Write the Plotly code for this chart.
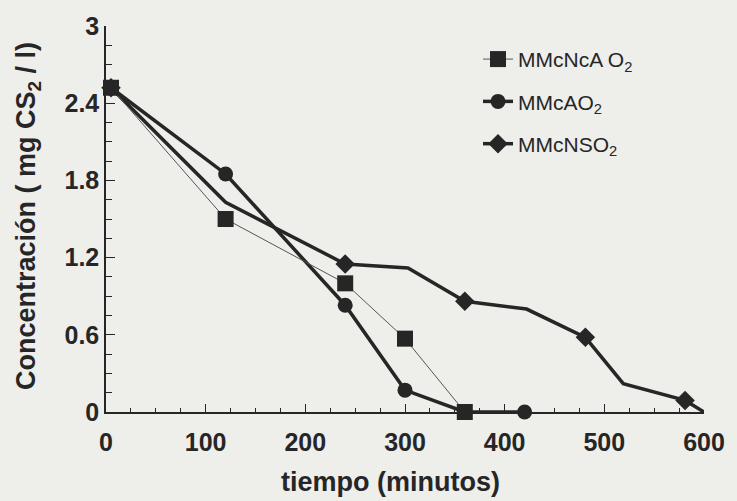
import plotly.graph_objects as go

# ---- data ----
sq_name = "MMcNcA O<sub>2</sub>"
sq_t = [5, 120, 240, 300, 360]
sq_c = [2.52, 1.50, 1.00, 0.57, 0.0]

ci_name = "MMcAO<sub>2</sub>"
ci_t = [5, 120, 240, 300, 360, 420]
ci_c = [2.52, 1.85, 0.83, 0.17, 0.0, 0.0]

di_name = "MMcNSO<sub>2</sub>"
di_t = [5, 120, 240, 303, 360, 422, 481, 519, 581, 600]
di_c = [2.52, 1.63, 1.15, 1.12, 0.86, 0.80, 0.58, 0.22, 0.09, 0.0]
di_has_marker = [True, False, True, False, True, False, True, False, True, False]

x_tickvals = [0, 100, 200, 300, 400, 500, 600]
x_ticktext = ["0", "100", "200", "300", "400", "500", "600"]
y_tickvals = [0, 0.6, 1.2, 1.8, 2.4, 3.0]
y_ticktext = ["0", "0.6", "1.2", "1.8", "2.4", "3"]

x_title = "tiempo (minutos)"
y_title = "Concentración ( mg CS<sub>2</sub> / l)"

# ---- styles ----
INK = "#262626"
BG = "#eeeeeb"
FONT = "Arial, Liberation Sans, sans-serif"

fig = go.Figure()

di_sizes = [15 if m else 0 for m in di_has_marker]

fig.add_trace(go.Scatter(
    x=di_t, y=di_c, mode="lines+markers", showlegend=False, cliponaxis=False,
    line=dict(color=INK, width=3.5),
    marker=dict(symbol="diamond", size=di_sizes, color=INK, opacity=1, line=dict(width=0)),
))
fig.add_trace(go.Scatter(
    x=ci_t, y=ci_c, mode="lines+markers", showlegend=False, cliponaxis=False,
    line=dict(color=INK, width=3.5),
    marker=dict(symbol="circle", size=15, color=INK, opacity=1, line=dict(width=0)),
))
fig.add_trace(go.Scatter(
    x=sq_t, y=sq_c, mode="lines+markers", showlegend=False, cliponaxis=False,
    line=dict(color="#555555", width=1),
    marker=dict(symbol="square", size=16, color=INK, opacity=1, line=dict(width=0)),
))

# legend entries
for i, (nm, sym, lw, lc, ms) in enumerate([
    (sq_name, "square", 1, "#555555", 16),
    (ci_name, "circle", 3.5, INK, 15),
    (di_name, "diamond", 3.5, INK, 15),
]):
    fig.add_trace(go.Scatter(
        x=[None], y=[None], mode="lines+markers", name=nm, legendgroup=f"g{i}",
        line=dict(color=lc, width=lw),
        marker=dict(symbol=sym, size=ms, color=INK, opacity=1, line=dict(width=0)),
    ))

W, H = 737, 501
L, R, T, B = 106, 25, 24, 89
pw, ph = W - L - R, H - T - B

def px_to_paper_x(px):
    return (px - L) / pw

def px_to_paper_y(py):
    return (H - B - py) / ph

fig.update_layout(
    width=W, height=H,
    margin=dict(l=L, r=R, t=T, b=B, pad=0),
    paper_bgcolor=BG, plot_bgcolor=BG,
    font=dict(family=FONT, color=INK),
    showlegend=True,
    legend=dict(
        x=px_to_paper_x(483), y=px_to_paper_y(37), xanchor="left", yanchor="top",
        bgcolor="rgba(0,0,0,0)", font=dict(size=21, family=FONT, color=INK),
        traceorder="grouped", tracegroupgap=12, itemwidth=30,
    ),
    xaxis=dict(
        range=[0, 600], showgrid=False, zeroline=False,
        showline=True, linecolor=INK, linewidth=1.5,
        tickmode="array", tickvals=x_tickvals, ticktext=x_ticktext,
        ticks="inside", ticklen=8, tickwidth=1, tickcolor=INK,
        tickfont=dict(size=25, family=FONT, color=INK, weight="bold"),
        minor=dict(dtick=25, tick0=0, ticks="inside", ticklen=4, tickwidth=1, tickcolor=INK, showgrid=False),
        ticklabelstandoff=7,
    ),
    yaxis=dict(
        range=[0, 3], showgrid=False, zeroline=False,
        showline=True, linecolor=INK, linewidth=1.5,
        tickmode="array", tickvals=y_tickvals, ticktext=y_ticktext,
        ticks="inside", ticklen=9, tickwidth=1, tickcolor=INK,
        tickfont=dict(size=25, family=FONT, color=INK, weight="bold"),
        minor=dict(dtick=0.15, tick0=0, ticks="inside", ticklen=6, tickwidth=1, tickcolor=INK, showgrid=False),
        ticklabelstandoff=0,
    ),
    annotations=[
        dict(text=f"<b>{x_title}</b>", xref="paper", yref="paper",
             x=px_to_paper_x(394), y=px_to_paper_y(482), xanchor="center", yanchor="middle",
             showarrow=False, font=dict(size=27, family=FONT, color=INK)),
        dict(text=f"<b>{y_title}</b>", xref="paper", yref="paper",
             x=px_to_paper_x(27), y=px_to_paper_y(215), xanchor="center", yanchor="middle",
             textangle=-90, showarrow=False, font=dict(size=27, family=FONT, color=INK)),
    ],
)

fig.write_html("out.html")
